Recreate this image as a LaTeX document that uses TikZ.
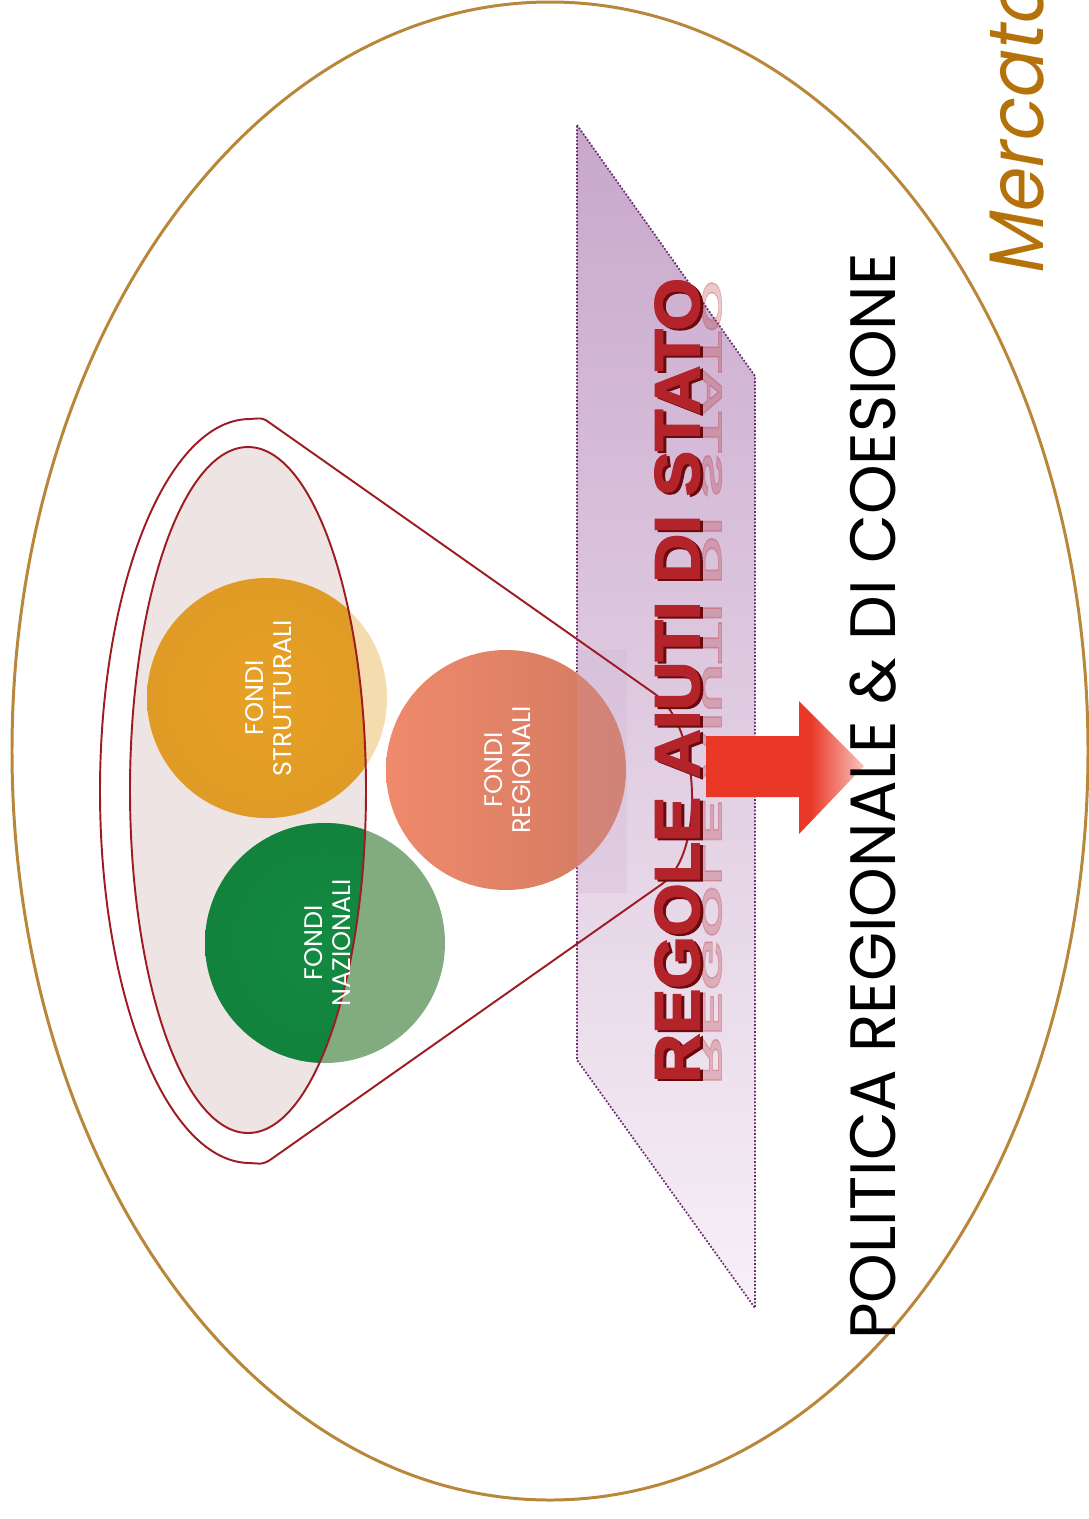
\documentclass[tikz,border=0pt]{standalone}
\usepackage{fontspec}
\setmainfont{Poppins}
\newfontfamily\regolefont{Liberation Sans}[BoldFeatures={FakeBold=2.5}]
\newfontfamily\mercatofont{Poppins}[FakeSlant=0.2]
\usetikzlibrary{positioning}
\definecolor{rimbrown}{HTML}{B8873A}
\definecolor{funnelred}{HTML}{9E1B22}
\definecolor{innerpink}{HTML}{EEE4E3}
\definecolor{planepurple}{HTML}{C8A7CB}
\definecolor{planelight}{HTML}{F7F0F7}
\definecolor{planeedge}{HTML}{6A2C6E}
\definecolor{strutorange}{HTML}{E8A126}
\definecolor{strutlight}{HTML}{F4DCAE}
\definecolor{nazgreen}{HTML}{138A41}
\definecolor{nazlight}{HTML}{82AC80}
\definecolor{regsalmon}{HTML}{EF8A6B}
\definecolor{regdark}{HTML}{D27A62}
\definecolor{regolered}{HTML}{B3232A}
\definecolor{regoleshadow}{HTML}{6B0A0E}
\definecolor{arrowred}{HTML}{EA3828}
\definecolor{mercatocol}{HTML}{B5720A}
\pgfdeclarehorizontalshading{arrowfade}{100bp}{color(0bp)=(arrowred); color(25bp)=(arrowred);
  color(58bp)=(arrowred); color(75bp)=(arrowred!30); color(100bp)=(arrowred!30)}

\begin{document}
\begin{tikzpicture}[x=0.02cm, y=-0.02cm,
  rim/.style={draw=rimbrown, line width=1.7pt},
  funnel/.style={draw=funnelred, line width=1.1pt},
  planebox/.style={draw=planeedge, densely dotted, line width=1pt,
    top color=planepurple, middle color=planepurple, bottom color=planelight},
  fondolabel/.style={rotate=90, align=center, text=white, inner sep=0pt,
    font=\fontsize{14.5}{16}\selectfont},
  regolelabel/.style={rotate=90, anchor=base west, inner sep=0pt, xscale=1.07,
    font=\regolefont\bfseries\fontsize{36}{40}\selectfont}]

  \useasboundingbox (0,0) rectangle (1089,1519);
  \clip (0,0) rectangle (1089,1519);

  \draw[rim] (550,751) ellipse [x radius=538, y radius=749];

  \fill[innerpink] (248,790) ellipse [x radius=118, y radius=343];

  \path[planebox] (577,125) -- (755,376) -- (755,1308) -- (577,1060) -- cycle;

  \fill[strutlight] (267,698) circle [radius=120];
  \fill[nazlight] (325,943) circle [radius=120];
  \begin{scope}
    \clip (248,790) ellipse [x radius=118, y radius=343];
    \shade[inner color=strutorange, outer color=strutorange!96!black] (267,698) circle [radius=120];
    \shade[inner color=nazgreen, outer color=nazgreen!94!black] (325,943) circle [radius=120];
  \end{scope}
  \shade[left color=regsalmon, right color=regdark] (506,770) circle [radius=120];
  \fill[planepurple, opacity=0.2] (577,650) rectangle (627,893);

  \draw[funnel] (248,790) ellipse [x radius=118, y radius=343];
  \draw[funnel] (270,423) -- (655,694) .. controls (700,726) and (706,853) .. (662,884)
    -- (270,1160) .. controls (263,1164) .. (250,1163)
    arc [start angle=90, end angle=270, x radius=150, y radius=372]
    .. controls (263,418) .. (270,423) -- cycle;

  \node[fondolabel] (strutturali) at (269,698) {FONDI\\STRUTTURALI};
  \node[fondolabel] (nazionali) at (328,943) {FONDI\\NAZIONALI};
  \node[fondolabel] (regionali) at (508,770) {FONDI\\REGIONALI};

  \node[regolelabel, yscale=-0.45, text=regolered, opacity=0.25] (riflesso) at (702,1085) {REGOLE AIUTI DI STATO};
  \node[regolelabel, text=regoleshadow] (ombra) at (702,1085) {REGOLE AIUTI DI STATO};
  \node[regolelabel, text=regolered] (regole) at (699,1083) {REGOLE AIUTI DI STATO};

  \shade[shading=arrowfade]
    (706,736) -- (799,736) -- (799,701) -- (864,766) -- (799,834) -- (799,797) -- (706,797) -- cycle;

  \node[rotate=90, anchor=base west, inner sep=0pt, xscale=0.985, font=\fontsize{36.5}{40}\selectfont]
    (politica) at (895,1340) {POLITICA REGIONALE \& DI COESIONE};
  \node[rotate=90, anchor=base west, inner sep=0pt, xscale=0.92, text=mercatocol,
    font=\mercatofont\fontsize{44}{50}\selectfont] (mercato) at (1043,277) {Mercato};
\end{tikzpicture}
\end{document}
